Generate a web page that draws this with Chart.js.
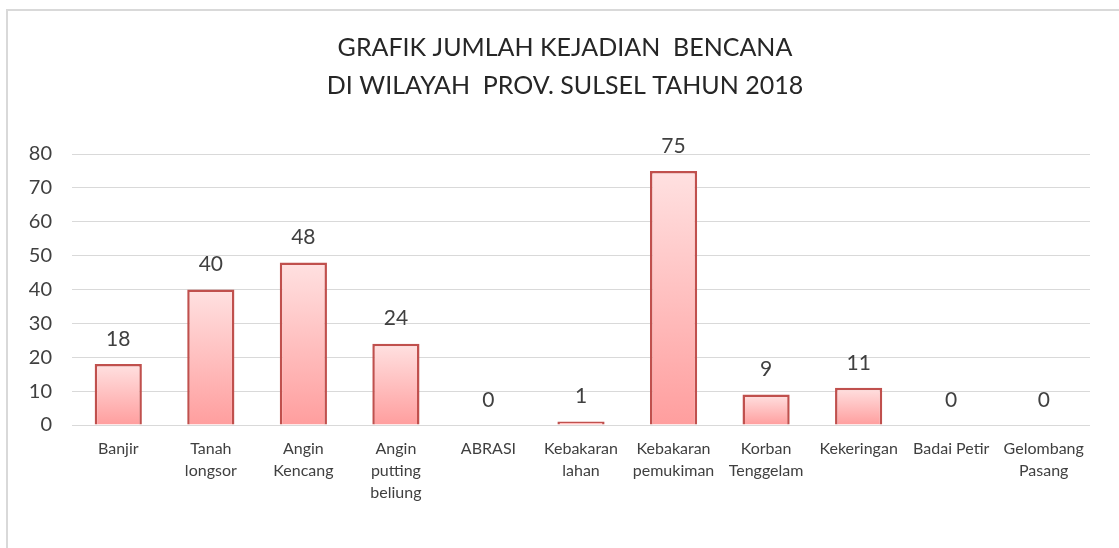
<!DOCTYPE html>
<html>
<head>
<meta charset="utf-8">
<script src="https://cdn.jsdelivr.net/npm/chart.js@4"></script>
<style>
  html, body { margin: 0; padding: 0; background: #fff; }
  #wrap { position: relative; width: 1119px; height: 548px; overflow: hidden; }
  #frame {
    position: absolute; left: 6px; top: 9px; width: 1140px; height: 560px;
    border: 2px solid #d9d9d9; box-sizing: border-box;
  }
  #c { position: absolute; left: 0; top: 0; }
</style>
</head>
<body>
<div id="wrap">
  <div id="frame"></div>
  <canvas id="c" width="1119" height="548"></canvas>
</div>
<script>
// Kategori bencana
const categories = [
  'Banjir',
  ['Tanah', 'longsor'],
  ['Angin', 'Kencang'],
  ['Angin', 'putting', 'beliung'],
  'ABRASI',
  ['Kebakaran', 'lahan'],
  ['Kebakaran', 'pemukiman'],
  ['Korban', 'Tenggelam'],
  'Kekeringan',
  'Badai Petir',
  ['Gelombang', 'Pasang']
];

// Jumlah kejadian
const jumlahKejadian = [18, 40, 48, 24, 0, 1, 75, 9, 11, 0, 0];

const titleLines = ['GRAFIK JUMLAH KEJADIAN  BENCANA', 'DI WILAYAH  PROV. SULSEL TAHUN 2018'];

const FONT = 'Lato, "Open Sans", sans-serif';
const TEXT = '#404040';

// Gradien per batang: terang di atas, lebih gelap di bawah
function barGradient(context) {
  const chart = context.chart;
  const yScale = chart.scales.y;
  if (!chart.chartArea || !yScale) return '#ffc0c0';
  const v = context.raw || 0;
  const top = yScale.getPixelForValue(v);
  const bottom = yScale.getPixelForValue(0);
  if (bottom - top < 1) return '#ffa0a0';
  const g = chart.ctx.createLinearGradient(0, top, 0, bottom);
  g.addColorStop(0, '#ffe1e1');
  g.addColorStop(1, '#ff9e9e');
  return g;
}

// Judul dua baris, di tengah seluruh bingkai
const chartTitle = {
  id: 'chartTitle',
  afterDraw(chart) {
    const ctx = chart.ctx;
    ctx.save();
    ctx.font = '25px ' + FONT;
    ctx.fillStyle = '#262626';
    ctx.textAlign = 'center';
    ctx.textBaseline = 'middle';
    titleLines.forEach((line, i) => {
      ctx.fillText(line, 565, 48 + i * 38);
    });
    ctx.restore();
  }
};

// Label nilai di atas batang
const valueLabels = {
  id: 'valueLabels',
  afterDatasetsDraw(chart) {
    const ctx = chart.ctx;
    const meta = chart.getDatasetMeta(0);
    ctx.save();
    ctx.font = '21px ' + FONT;
    ctx.fillStyle = TEXT;
    ctx.textAlign = 'center';
    ctx.textBaseline = 'middle';
    meta.data.forEach((bar, i) => {
      ctx.fillText(String(jumlahKejadian[i]), bar.x, bar.y - 25);
    });
    ctx.restore();
  }
};

new Chart(document.getElementById('c'), {
  type: 'bar',
  data: {
    labels: categories,
    datasets: [{
      data: jumlahKejadian,
      backgroundColor: barGradient,
      borderColor: '#c0504d',
      borderWidth: 2.5,
      borderSkipped: 'start',
      barPercentage: 0.51,
      categoryPercentage: 1.0
    }]
  },
  options: {
    responsive: false,
    animation: false,
    devicePixelRatio: 1,
    layout: { padding: { left: 0, right: 29, top: 154, bottom: 31 } },
    plugins: {
      legend: { display: false },
      tooltip: { enabled: false },
      title: { display: false }
    },
    scales: {
      x: {
        grid: { display: false, drawTicks: false },
        border: { display: false },
        ticks: {
          color: TEXT,
          font: { family: FONT, size: 16, lineHeight: 1.375 },
          padding: 13,
          maxRotation: 0,
          autoSkip: false
        }
      },
      y: {
        min: 0,
        max: 80,
        afterFit(scale) { scale.width = 72; },
        grid: { color: '#d9d9d9', lineWidth: 1, drawTicks: false },
        border: { display: false },
        ticks: {
          stepSize: 10,
          color: TEXT,
          font: { family: FONT, size: 20 },
          padding: 20
        }
      }
    }
  },
  plugins: [valueLabels, chartTitle]
});
</script>
</body>
</html>
